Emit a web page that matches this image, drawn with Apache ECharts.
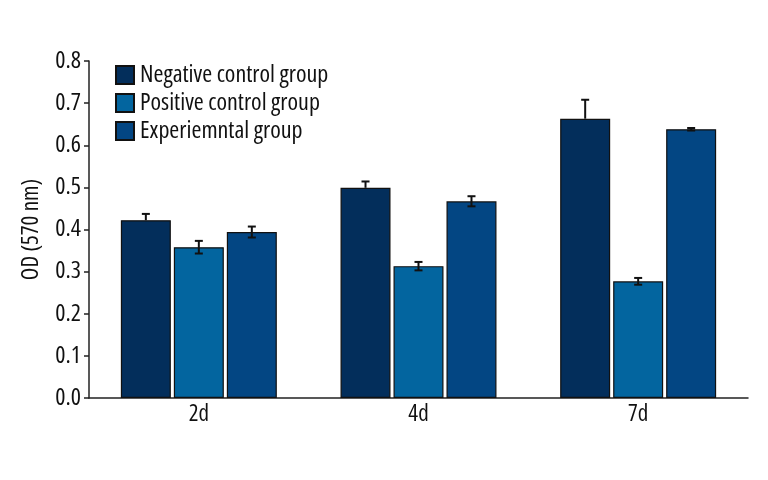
<!DOCTYPE html>
<html>
<head>
<meta charset="utf-8">
<script src="https://cdn.jsdelivr.net/npm/echarts@6/dist/echarts.min.js"></script>
<style>html,body{margin:0;padding:0;background:#fff}#c{width:768px;height:480px}</style>
</head>
<body>
<div id="c"></div>
<script>
const categories = ['2d', '4d', '7d'];
const seriesNames = ['Negative control group', 'Positive control group', 'Experiemntal group'];
const negative = [0.422, 0.499, 0.663];
const positive = [0.358, 0.313, 0.277];
const experimental = [0.394, 0.467, 0.638];
const negativeErr = [0.015, 0.015, 0.045];
const positiveErr = [0.015, 0.010, 0.008];
const experimentalErr = [0.013, 0.012, 0.003];
const yTicks = ['0.0','0.1','0.2','0.3','0.4','0.5','0.6','0.7','0.8'];

const colors = ['#032e5b', '#03659f', '#034683'];
const values = [negative, positive, experimental];
const errs = [negativeErr, positiveErr, experimentalErr];
const showLower = [false, true, true];
const CAT_GAP = 0.29, BAR_GAP = 0.06;
const FONT = '"Open Sans", "DejaVu Sans Condensed", sans-serif';
const STRETCH = 'condensed';
const WEIGHT = 500;

function errSeries(si) {
  return {
    type: 'custom',
    name: seriesNames[si] + ' err',
    z: 10,
    silent: true,
    data: values[si].map((v, i) => [i, v, errs[si][i]]),
    renderItem: function (params, api) {
      const ci = api.value(0), v = api.value(1), e = api.value(2);
      const band = api.size([1, 0])[0];
      const usable = band * (1 - CAT_GAP);
      const n = 3;
      const bw = usable / (n + (n - 1) * BAR_GAP);
      const center = api.coord([ci, 0])[0];
      const x = center - usable / 2 + si * bw * (1 + BAR_GAP) + bw / 2;
      const yTop = api.coord([ci, v + e])[1];
      const yBot = api.coord([ci, showLower[si] ? v - e : v])[1];
      const cap = 4;
      const style = { stroke: '#111', lineWidth: 2 };
      const children = [
        { type: 'line', shape: { x1: x, y1: yTop, x2: x, y2: yBot }, style: style },
        { type: 'line', shape: { x1: x - cap, y1: yTop, x2: x + cap, y2: yTop }, style: style }
      ];
      if (showLower[si]) {
        children.push({ type: 'line', shape: { x1: x - cap, y1: yBot, x2: x + cap, y2: yBot }, style: style });
      }
      return { type: 'group', children: children };
    }
  };
}

const chart = echarts.init(document.getElementById('c'));
chart.setOption({
  animation: false,
  textStyle: { fontFamily: FONT, fontStyle: STRETCH, fontWeight: WEIGHT },
  grid: { left: 89, right: 20, top: 61, bottom: 82 },
  legend: {
    data: seriesNames.map(n => ({ name: n, icon: 'rect' })),
    orient: 'vertical',
    left: 115, top: 63, padding: 0,
    itemWidth: 18, itemHeight: 18, itemGap: 4,
    textStyle: { fontSize: 24, color: '#111', fontFamily: FONT, fontStyle: STRETCH, fontWeight: WEIGHT, padding: [0, 0, 0, 1] }
  },
  xAxis: {
    type: 'category',
    data: categories,
    axisLine: { lineStyle: { color: '#222', width: 1.5 } },
    axisTick: { show: false },
    axisLabel: { fontSize: 23, color: '#111', margin: 5, fontFamily: FONT, fontStyle: STRETCH, fontWeight: WEIGHT }
  },
  yAxis: {
    type: 'value',
    min: 0, max: 0.8, interval: 0.1,
    name: 'OD (570 nm)',
    nameLocation: 'middle',
    nameGap: 46,
    nameTextStyle: { fontSize: 23, color: '#111', fontFamily: FONT, fontStyle: STRETCH, fontWeight: WEIGHT },
    axisLine: { show: true, lineStyle: { color: '#222', width: 1.5 } },
    axisTick: { show: true, length: 5, lineStyle: { color: '#222', width: 1.5 } },
    splitLine: { show: false },
    axisLabel: {
      fontSize: 24, color: '#111', margin: 8, fontFamily: FONT, fontStyle: STRETCH, fontWeight: WEIGHT,
      formatter: function (v) { return yTicks[Math.round(v * 10)]; }
    }
  },
  series: [0, 1, 2].map(si => ({
    type: 'bar',
    name: seriesNames[si],
    data: values[si],
    barCategoryGap: (CAT_GAP * 100) + '%',
    barGap: (BAR_GAP * 100) + '%',
    itemStyle: { color: colors[si], borderColor: '#111', borderWidth: 1.2 }
  })).concat([0, 1, 2].map(errSeries))
});
</script>
</body>
</html>
